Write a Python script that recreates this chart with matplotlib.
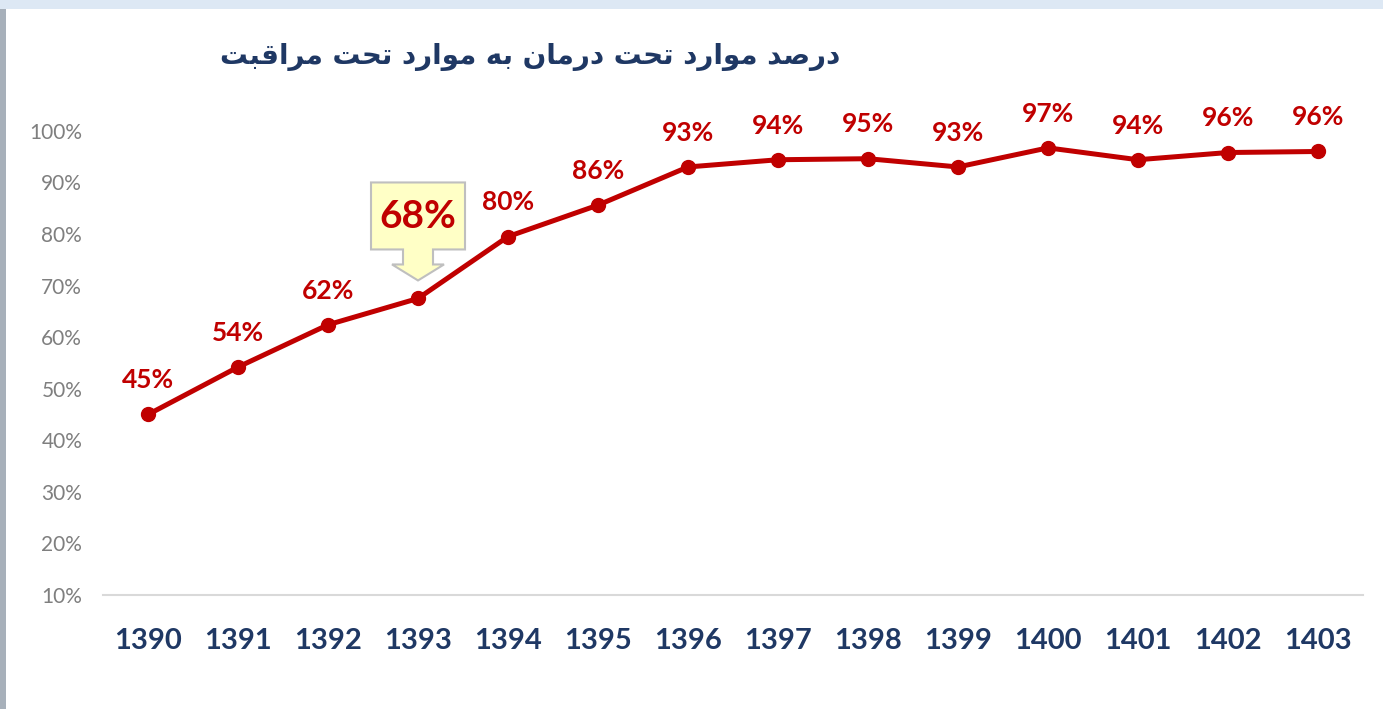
import matplotlib
matplotlib.use("Agg")
import matplotlib.pyplot as plt
import matplotlib.transforms as mtransforms
from matplotlib.patches import Polygon, Rectangle

years = ['1390', '1391', '1392', '1393', '1394', '1395', '1396',
         '1397', '1398', '1399', '1400', '1401', '1402', '1403']
values = [45.0, 54.2, 62.4, 67.5, 79.5, 85.6, 93.0,
          94.4, 94.6, 93.0, 96.7, 94.4, 95.8, 96.0]
highlight = '1393'
title = 'درصد موارد تحت درمان به موارد تحت مراقبت'

RED = '#c00000'
NAVY = '#1f3864'

# minimal arabic shaping (matplotlib has no shaping / bidi)
FORMS = {
    'ا': (0xFE8D, 0xFE8E, None, None),
    'ب': (0xFE8F, 0xFE90, 0xFE91, 0xFE92),
    'ت': (0xFE95, 0xFE96, 0xFE97, 0xFE98),
    'ح': (0xFEA1, 0xFEA2, 0xFEA3, 0xFEA4),
    'د': (0xFEA9, 0xFEAA, None, None),
    'ر': (0xFEAD, 0xFEAE, None, None),
    'ص': (0xFEB9, 0xFEBA, 0xFEBB, 0xFEBC),
    'ق': (0xFED5, 0xFED6, 0xFED7, 0xFED8),
    'م': (0xFEE1, 0xFEE2, 0xFEE3, 0xFEE4),
    'ن': (0xFEE5, 0xFEE6, 0xFEE7, 0xFEE8),
    'و': (0xFEED, 0xFEEE, None, None),
    'ه': (0xFEE9, 0xFEEA, 0xFEEB, 0xFEEC),
}


def shape(s):
    out = []
    for i, c in enumerate(s):
        if c not in FORMS:
            out.append(c)
            continue
        prev = s[i - 1] if i > 0 else ' '
        nxt = s[i + 1] if i < len(s) - 1 else ' '
        jp = prev in FORMS and FORMS[prev][2] is not None
        jn = FORMS[c][2] is not None and nxt in FORMS
        iso, fin, ini, med = FORMS[c]
        if jp and jn:
            out.append(chr(med))
        elif jp:
            out.append(chr(fin))
        elif jn:
            out.append(chr(ini))
        else:
            out.append(chr(iso))
    return ''.join(out)[::-1]


plt.rcParams['font.family'] = ['Lato', 'DejaVu Sans']

fig = plt.figure(figsize=(13.83, 7.09), dpi=100)
fig.patches.append(Rectangle((0, 0.988), 1, 0.012, transform=fig.transFigure,
                             facecolor='#dde8f4', edgecolor='none'))
fig.patches.append(Rectangle((0, 0), 0.004, 0.988, transform=fig.transFigure,
                             facecolor='#a7b0ba', edgecolor='none'))

ax = fig.add_axes([0.0745, 0.1608, 0.911, 0.691])
x = list(range(len(years)))
ax.plot(x, values, color=RED, lw=3.6, marker='o', ms=10, zorder=3)
ax.set_xlim(-0.5, len(years) - 0.5)
ax.set_ylim(10, 105)
ax.set_yticks(range(10, 101, 10))
ax.set_yticklabels([f'{t}%' for t in range(10, 101, 10)])
ax.set_xticks(x)
ax.set_xticklabels(years)
for s in ['top', 'right', 'left']:
    ax.spines[s].set_visible(False)
ax.spines['bottom'].set_color('#d9d9d9')
ax.spines['bottom'].set_linewidth(1.5)
ax.tick_params(axis='y', length=0, pad=15, labelsize=15, labelcolor='#7f7f7f')
ax.tick_params(axis='x', length=0, pad=24, labelsize=21, labelcolor=NAVY)
for lab in ax.get_xticklabels():
    lab.set_fontweight('bold')

for xi, yr, v in zip(x, years, values):
    if yr == highlight:
        tr = mtransforms.Affine2D() + mtransforms.ScaledTranslation(xi, v, ax.transData)
        shape_pts = [(-47, 116), (47, 116), (47, 49), (15, 49), (15, 34), (26, 34),
                     (0, 18), (-26, 34), (-15, 34), (-15, 49), (-47, 49)]
        ax.add_patch(Polygon(shape_pts, closed=True, transform=tr, facecolor='#ffffc6',
                             edgecolor='#bfbfbf', lw=1.5, zorder=4, clip_on=False))
        ax.annotate(f'{v:.0f}%', (xi, v), xytext=(0, 59), textcoords='offset points',
                    ha='center', va='center', fontsize=28, fontweight='bold',
                    color=RED, zorder=5)
    else:
        ax.annotate(f'{v:.0f}%', (xi, v), xytext=(0, 16), textcoords='offset points',
                    ha='center', va='bottom', fontsize=19, fontweight='bold', color=RED)

fig.text(0.383, 0.92, shape(title), ha='center', va='center', fontsize=20,
         fontweight='bold', color=NAVY, family=['DejaVu Sans'])

fig.savefig('out.png', dpi=100)
